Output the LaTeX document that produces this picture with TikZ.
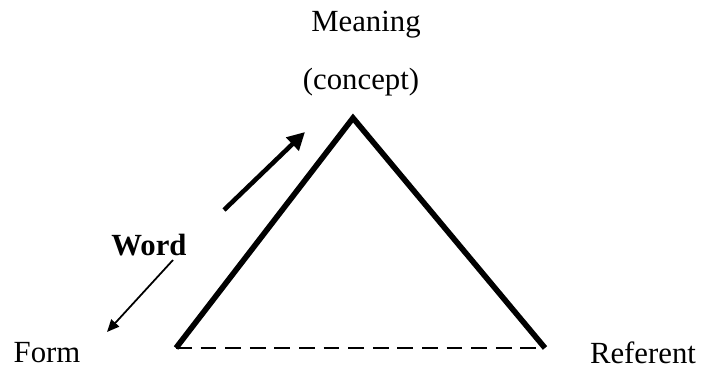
\documentclass[tikz,border=0pt]{standalone}
\usepackage{fontspec}
\setmainfont{Liberation Serif}
\usetikzlibrary{arrows.meta}

\begin{document}
\begin{tikzpicture}[
    every node/.style={font=\fontsize{17.5}{20}\selectfont},
    side/.style={line width=3.2pt, line join=miter},
    base/.style={line width=1.7pt, dash pattern=on 9pt off 5pt},
    bigarrow/.style={-{Triangle[length=10pt, width=10pt]}, line width=2.6pt},
    smallarrow/.style={-{Triangle[length=7pt, width=6pt]}, line width=1pt}
]
\useasboundingbox (0,0) rectangle (14.02,7.36);

% Corners of the triangle
\coordinate (apex) at (7.06, 5.0);
\coordinate (left) at (3.52, 0.4);
\coordinate (right) at (10.9, 0.4);

% Labels
\node (meaning) at (7.32, 6.86) {Meaning};
\node (concept) at (7.22, 5.72) {(concept)};
\node[font=\fontsize{17.5}{20}\selectfont\bfseries] (word) at (2.98, 2.46) {Word};
\node (form) at (0.94, 0.30) {Form};
\node (referent) at (12.86, 0.30) {Referent};

% Triangle
\draw[side] (left) -- (apex) -- (right);
\draw[base] (left) -- (right);

% Arrows
\coordinate (up start) at (4.48, 3.16);
\coordinate (up end) at (6.1, 4.72);
\draw[bigarrow] (up start) -- (up end);

\coordinate (down start) at (3.46, 2.16);
\coordinate (down end) at (2.14, 0.72);
\draw[smallarrow] (down start) -- (down end);

\end{tikzpicture}
\end{document}
